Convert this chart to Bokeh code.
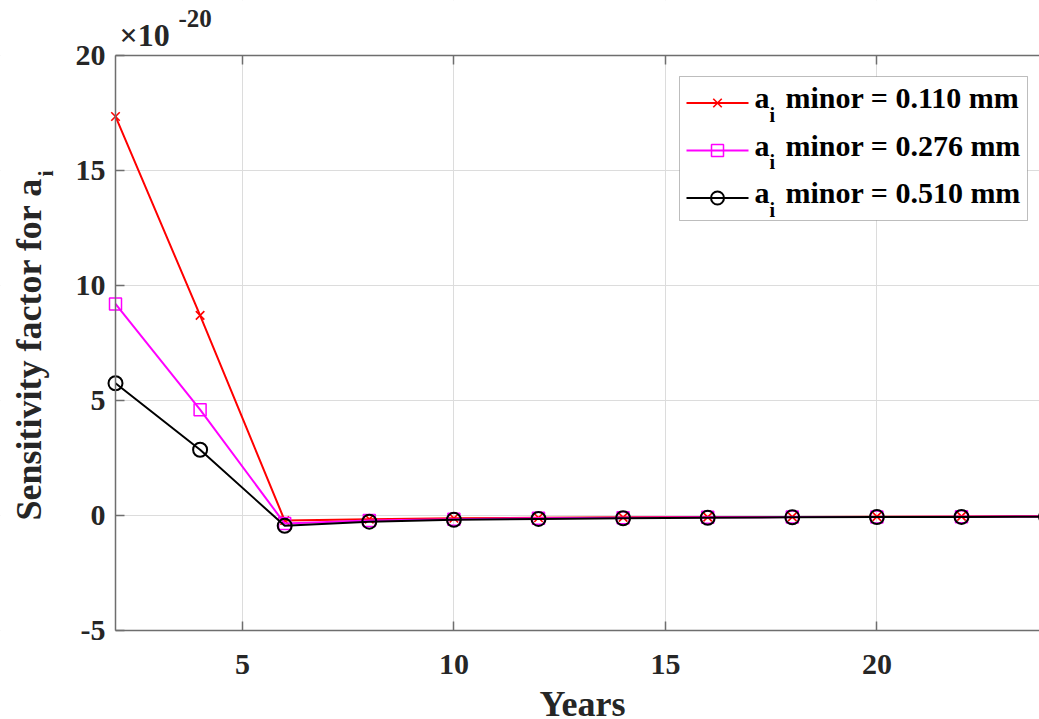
import math
from bokeh.plotting import figure
from bokeh.models import Range1d, FixedTicker, LinearAxis, Label, BoxAnnotation
from bokeh.embed import file_html
from bokeh.resources import INLINE

# ---------------- data (values in units of 1e-20) ----------------
years = [2, 4, 6, 8, 10, 12, 14, 16, 18, 20, 22, 24]
red_vals = [17.35, 8.70, -0.22, -0.16, -0.12, -0.10, -0.08, -0.07, -0.06, -0.05, -0.04, -0.035]
mag_vals = [9.20, 4.60, -0.35, -0.22, -0.16, -0.12, -0.10, -0.08, -0.07, -0.06, -0.05, -0.04]
blk_vals = [5.75, 2.86, -0.45, -0.27, -0.19, -0.15, -0.12, -0.10, -0.08, -0.07, -0.06, -0.05]
series_sizes = ["0.110", "0.276", "0.510"]
x_ticks = [5, 10, 15, 20]
y_ticks = [-5, 0, 5, 10, 15, 20]
x_lim = (2, 24)
y_lim = (-5, 20)
multiplier_base = "×10"
multiplier_exp = "-20"
x_title = "Years"
y_title = "Sensitivity factor for a"
y_title_sub = "i"

# ---------------- layout (pixel geometry of the axes box) ----------------
W, H = 1039, 719
PX_L, PX_B, PX_T = 115, 630, 55          # left, bottom, top of the axes box
PX_PER_X = 42.3
PX_PER_Y = (PX_B - PX_T) / (y_lim[1] - y_lim[0])

# the plotting frame covers the whole canvas; the axes sit at fixed locations
XMIN = x_lim[0] - PX_L / PX_PER_X
XMAX = x_lim[0] + (W - PX_L) / PX_PER_X
YMAX = y_lim[1] + PX_T / PX_PER_Y
YMIN = y_lim[0] - (H - PX_B) / PX_PER_Y

FONT = "Liberation Serif"
AX = "#6e6e6e"
TXT = "#262626"


def dx(px):
    return XMIN + px / PX_PER_X


def dy(py):
    return YMAX - py / PX_PER_Y


p = figure(width=W, height=H, output_backend="svg", toolbar_location=None,
           x_range=Range1d(XMIN, XMAX), y_range=Range1d(YMIN, YMAX),
           min_border=0, title_location=None)
p.background_fill_color = "white"
p.border_fill_color = "white"
p.outline_line_color = None

p.xgrid.ticker = FixedTicker(ticks=x_ticks)
p.ygrid.ticker = FixedTicker(ticks=y_ticks)
for g in (p.xgrid[0], p.ygrid[0]):
    g.grid_line_color = "#dcdcdc"
    g.grid_line_width = 1

# white masks so the grid stays inside the axes box
for kw in (dict(bottom=y_lim[1]), dict(top=y_lim[0]), dict(right=x_lim[0])):
    p.add_layout(BoxAnnotation(fill_color="white", fill_alpha=1, line_alpha=0,
                               level="underlay", **kw))


def style_axis(ax, ticks):
    ax.ticker = FixedTicker(ticks=ticks)
    ax.minor_tick_line_color = None
    ax.major_tick_in = 9
    ax.major_tick_out = 0
    ax.axis_line_color = AX
    ax.axis_line_width = 1.5
    ax.major_tick_line_color = AX
    ax.major_tick_line_width = 1.5
    ax.major_label_text_font = FONT
    ax.major_label_text_font_style = "bold"
    ax.major_label_text_font_size = "30px"
    ax.major_label_text_color = TXT


xa = p.xaxis[0]
style_axis(xa, x_ticks)
xa.fixed_location = y_lim[0]
xa.bounds = (x_lim[0], XMAX + 1)
xa.major_label_standoff = 24

ya = p.yaxis[0]
style_axis(ya, y_ticks)
ya.fixed_location = x_lim[0]
ya.bounds = y_lim
ya.major_label_standoff = 10
ya.major_label_overrides = {-5: "-5"}

top_ax = LinearAxis()
style_axis(top_ax, x_ticks)
top_ax.fixed_location = y_lim[1]
top_ax.bounds = (x_lim[0], XMAX + 1)
top_ax.major_label_overrides = {t: "" for t in x_ticks}
p.add_layout(top_ax, "above")

# ---------------- series ----------------
p.line(years, red_vals, line_color="#ff0000", line_width=2)
p.scatter(years, red_vals, marker="x", size=12, line_color="#ff0000", line_width=1.6)
p.line(years, mag_vals, line_color="#ff00ff", line_width=2)
p.scatter(years, mag_vals, marker="square", size=12, line_color="#ff00ff",
          fill_alpha=0, line_width=1.5)
p.line(years, blk_vals, line_color="#000000", line_width=2)
p.scatter(years, blk_vals, marker="circle", size=14, line_color="#000000",
          fill_alpha=0, line_width=2)

# ---------------- legend (manual, for the subscript) ----------------
p.add_layout(BoxAnnotation(left=dx(679), right=dx(1027), top=dy(76), bottom=dy(220),
                           fill_color="white", fill_alpha=1,
                           line_color="#262626", line_width=1))
styles = [("#ff0000", "x", 12, 1.6), ("#ff00ff", "square", 12, 1.5), ("#000000", "circle", 13, 2)]
for i, (size_txt, (col, mk, ms, mlw)) in enumerate(zip(series_sizes, styles)):
    base = 107 + i * 47.5
    ly = dy(base - 4.5)
    p.line([dx(686), dx(748)], [ly, ly], line_color=col, line_width=2, level="overlay")
    p.scatter([dx(717)], [ly], marker=mk, size=ms, line_color=col, fill_alpha=0,
              line_width=mlw, level="overlay")
    p.add_layout(Label(x=dx(754), y=dy(base - 10), text="a", text_font=FONT,
                       text_font_style="bold", text_font_size="30px",
                       text_align="left", text_baseline="alphabetic", text_color="black"))
    p.add_layout(Label(x=dx(769), y=dy(base + 14 - 7), text="i", text_font=FONT,
                       text_font_style="bold", text_font_size="20px",
                       text_align="left", text_baseline="alphabetic", text_color="black"))
    p.add_layout(Label(x=dx(785), y=dy(base - 10), text=f"minor = {size_txt} mm", text_font=FONT,
                       text_font_style="bold", text_font_size="30px",
                       text_align="left", text_baseline="alphabetic", text_color="black"))

# ---------------- axis titles ----------------
p.add_layout(Label(x=dx(582), y=dy(703), text=x_title, text_font=FONT,
                   text_font_style="bold", text_font_size="36px",
                   text_align="center", text_baseline="alphabetic", text_color=TXT))
p.add_layout(Label(x=dx(28), y=dy(177), text=y_title, text_font=FONT,
                   text_font_style="bold", text_font_size="36px", angle=math.pi / 2,
                   text_align="right", text_baseline="alphabetic", text_color=TXT))
p.add_layout(Label(x=dx(45), y=dy(176), text=y_title_sub, text_font=FONT,
                   text_font_style="bold", text_font_size="22px", angle=math.pi / 2,
                   text_align="left", text_baseline="alphabetic", text_color=TXT))

# multiplier
p.add_layout(Label(x=dx(119), y=dy(34), text=multiplier_base, text_font=FONT,
                   text_font_style="bold", text_font_size="32px",
                   text_align="left", text_baseline="alphabetic", text_color=TXT))
p.add_layout(Label(x=dx(178), y=dy(18), text=multiplier_exp, text_font=FONT,
                   text_font_style="bold", text_font_size="25px",
                   text_align="left", text_baseline="alphabetic", text_color=TXT))

open("out.html", "w").write(file_html(p, INLINE))
